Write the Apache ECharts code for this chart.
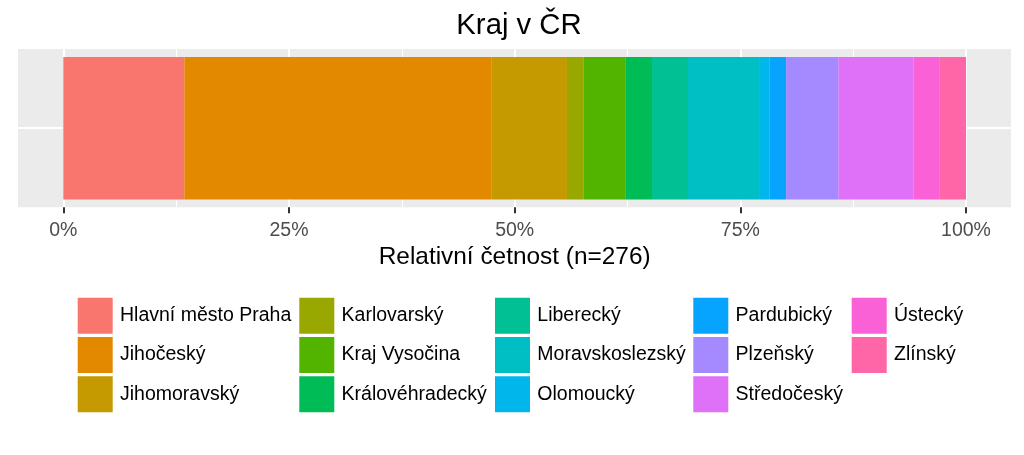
<!DOCTYPE html>
<html>
<head>
<meta charset="utf-8">
<script src="https://cdn.jsdelivr.net/npm/echarts@6/dist/echarts.min.js"></script>
<style>
html,body{margin:0;padding:0;background:#fff;}
#chart{width:1024px;height:455px;}
</style>
</head>
<body>
<div id="chart"></div>
<script>
// ---- data ----
var regions = ['Hlavní město Praha','Jihočeský','Jihomoravský','Karlovarský','Kraj Vysočina',
  'Královéhradecký','Liberecký','Moravskoslezský','Olomoucký','Pardubický','Plzeňský',
  'Středočeský','Ústecký','Zlínský'];
var counts = [37, 94, 23, 5, 13, 8, 11, 22, 3, 5, 16, 23, 8, 8];
var colors = ['#F8766D','#E38900','#C49A00','#99A800','#53B400','#00BC56','#00C094',
  '#00BFC4','#00B6EB','#06A4FF','#A58AFF','#DF70F8','#FB61D7','#FF66A8'];
var barCategory = ['Kraj'];
var titleText = 'Kraj v ČR';
var n = 276;
var axisTitle = 'Relativní četnost (n=' + n + ')';

var FONT = '"Liberation Sans", Arial, sans-serif';
var chart = echarts.init(document.getElementById('chart'), null, {renderer: 'canvas'});

var series = regions.map(function (r, i) {
  return {
    name: r,
    type: 'bar',
    stack: 'total',
    xAxisIndex: 1,
    yAxisIndex: 1,
    barWidth: '90%',
    itemStyle: {color: colors[i]},
    emphasis: {disabled: true},
    data: [counts[i] / n]
  };
});

// legend columns (column-major, 3 rows)
var colLeft = [77.7, 299.3, 495, 693.3, 851.7];
var legends = [];
for (var c = 0; c < 5; c++) {
  legends.push({
    orient: 'vertical',
    left: colLeft[c],
    top: 297.7,
    padding: 0,
    itemWidth: 35,
    itemHeight: 36,
    itemGap: 3.3,
    icon: 'rect',
    selectedMode: false,
    textStyle: {fontFamily: FONT, fontSize: 19.5, color: '#000', padding: [0, 0, 0, 2.3]},
    data: regions.slice(c * 3, c * 3 + 3)
  });
}

var option = {
  backgroundColor: '#fff',
  animation: false,
  title: {
    text: titleText,
    left: 514,
    top: 6,
    textAlign: 'center',
    textStyle: {fontFamily: FONT, fontSize: 29.3, fontWeight: 'normal', color: '#000'}
  },
  legend: legends,
  grid: [
    {left: 18, right: 13, top: 49, bottom: 247.7, show: true, backgroundColor: '#EBEBEB', borderWidth: 0},
    {left: 63.3, right: 58, top: 49, bottom: 247.7, show: false}
  ],
  xAxis: [
    {gridIndex: 0, type: 'value', show: false, min: 0, max: 1, splitLine: {show: false}},
    {
      gridIndex: 1, type: 'value', min: 0, max: 1, interval: 0.25,
      name: axisTitle, nameLocation: 'middle', nameGap: 38,
      nameTextStyle: {fontFamily: FONT, fontSize: 24.4, color: '#000'},
      axisLine: {show: false},
      axisTick: {show: true, length: 6, lineStyle: {color: '#333333', width: 2}},
      axisLabel: {
        margin: 13, fontFamily: FONT, fontSize: 19.5, color: '#4D4D4D',
        formatter: function (v) { return Math.round(v * 100) + '%'; }
      },
      splitLine: {show: true, lineStyle: {color: '#FFFFFF', width: 2}},
      minorTick: {show: false, splitNumber: 2},
      minorSplitLine: {show: true, lineStyle: {color: '#FFFFFF', width: 1}}
    }
  ],
  yAxis: [
    {
      gridIndex: 0, type: 'value', min: 0, max: 2, interval: 1,
      axisLine: {show: false}, axisTick: {show: false}, axisLabel: {show: false},
      splitLine: {show: true, showMinLine: false, showMaxLine: false, lineStyle: {color: '#FFFFFF', width: 2}}
    },
    {
      gridIndex: 1, type: 'category', data: barCategory,
      axisLine: {show: false}, axisTick: {show: false}, axisLabel: {show: false},
      splitLine: {show: false}
    }
  ],
  series: series
};
chart.setOption(option);
</script>
</body>
</html>
